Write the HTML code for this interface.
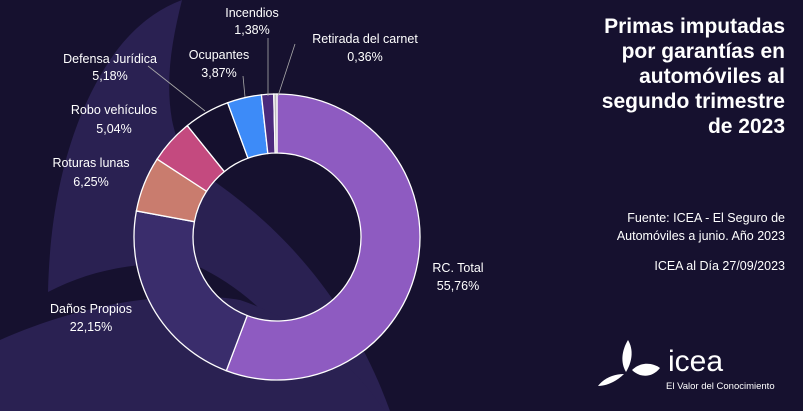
<!DOCTYPE html>
<html><head><meta charset="utf-8"><style>
body{margin:0;width:803px;height:411px;overflow:hidden;background:#16112f;font-family:"Liberation Sans",sans-serif;}
svg{position:absolute;left:0;top:0}
.t{position:absolute;right:18px;color:#fff;text-align:right}
</style></head><body>
<svg width="803" height="411" viewBox="0 0 803 411" id="s">
<path d="M182,0 C172,40 165,80 172,120 C178,150 190,165 205,175 C280,225 350,300 390,411 L330,411 C300,340 250,290 195,265 C140,260 90,270 48,292 C50,200 70,120 110,60 C130,30 155,10 182,0Z" fill="#2a2152"/>
<path d="M0,340 C90,300 180,290 240,300 C300,320 350,360 385,411 L0,411Z" fill="#2a2152"/>
<g id="d" stroke="#fff" stroke-width="1.3"></g>
<g stroke="#aaa" stroke-width="0.8" fill="none">
<polyline points="148,66 205,111"/>
<polyline points="243,76 245,97"/>
<polyline points="268,38 268,96"/>
<polyline points="295,44 278,96"/>
</g>
<g fill="#fff" font-size="12.5" text-anchor="middle">
<text x="252" y="17">Incendios</text><text x="252" y="34">1,38%</text>
<text x="365" y="43">Retirada del carnet</text><text x="365" y="61">0,36%</text>
<text x="110" y="63">Defensa  Jurídica</text><text x="110" y="80">5,18%</text>
<text x="219" y="59">Ocupantes</text><text x="219" y="77">3,87%</text>
<text x="114" y="114">Robo vehículos</text><text x="114" y="133">5,04%</text>
<text x="91" y="167">Roturas lunas</text><text x="91" y="186">6,25%</text>
<text x="91" y="313">Daños Propios</text><text x="91" y="331">22,15%</text>
<text x="458" y="272">RC. Total</text><text x="458" y="290">55,76%</text>
</g>
<g fill="#fff">
<path d="M628,340 C622,350 620,362 626,372 C632,362 634,350 628,340Z"/>
<path d="M632,370 C640,362 652,362 660,368 C652,378 640,378 632,370Z"/>
<path d="M624,374 C616,382 606,386 598,386 C604,378 614,374 624,374Z"/>
<text x="668" y="371" font-size="30">icea</text>
<text x="666" y="389" font-size="9.5">El Valor del Conocimiento</text>
</g>
</svg>
<div class="t" style="top:14px;font-size:21px;font-weight:bold;line-height:25px">Primas imputadas<br>por garantías en<br>automóviles al<br>segundo trimestre<br>de 2023</div>
<div class="t" style="top:209px;font-size:12.5px;line-height:18px">Fuente: ICEA - El Seguro de<br>Automóviles a junio. Año 2023</div>
<div class="t" style="top:259px;font-size:12.5px">ICEA al Día 27/09/2023</div>
<script>
var cx=277,cy=237,R=143,r=84;
var v=[[55.76,"#8e5bc1"],[22.15,"#3a2d6c"],[6.25,"#c97c6e"],[5.04,"#c44a7f"],[5.18,"#15102e"],[3.87,"#3d8bf8"],[1.38,"#4b2a7c"],[0.36,"#bbbbbb"]];
var tot=v.reduce((a,b)=>a+b[0],0),a=0,g=document.getElementById("d"),h="";
function p(rad,ang){return [cx+rad*Math.sin(ang),cy-rad*Math.cos(ang)];}
v.forEach(function(x){var b=a+x[0]/tot*2*Math.PI,l=(b-a)>Math.PI?1:0;
var o1=p(R,a),o2=p(R,b),i1=p(r,b),i2=p(r,a);
h+='<path fill="'+x[1]+'" d="M'+o1+' A'+R+','+R+' 0 '+l+' 1 '+o2+' L'+i1+' A'+r+','+r+' 0 '+l+' 0 '+i2+'Z"/>';a=b;});
g.innerHTML=h;
</script>
</body></html>
